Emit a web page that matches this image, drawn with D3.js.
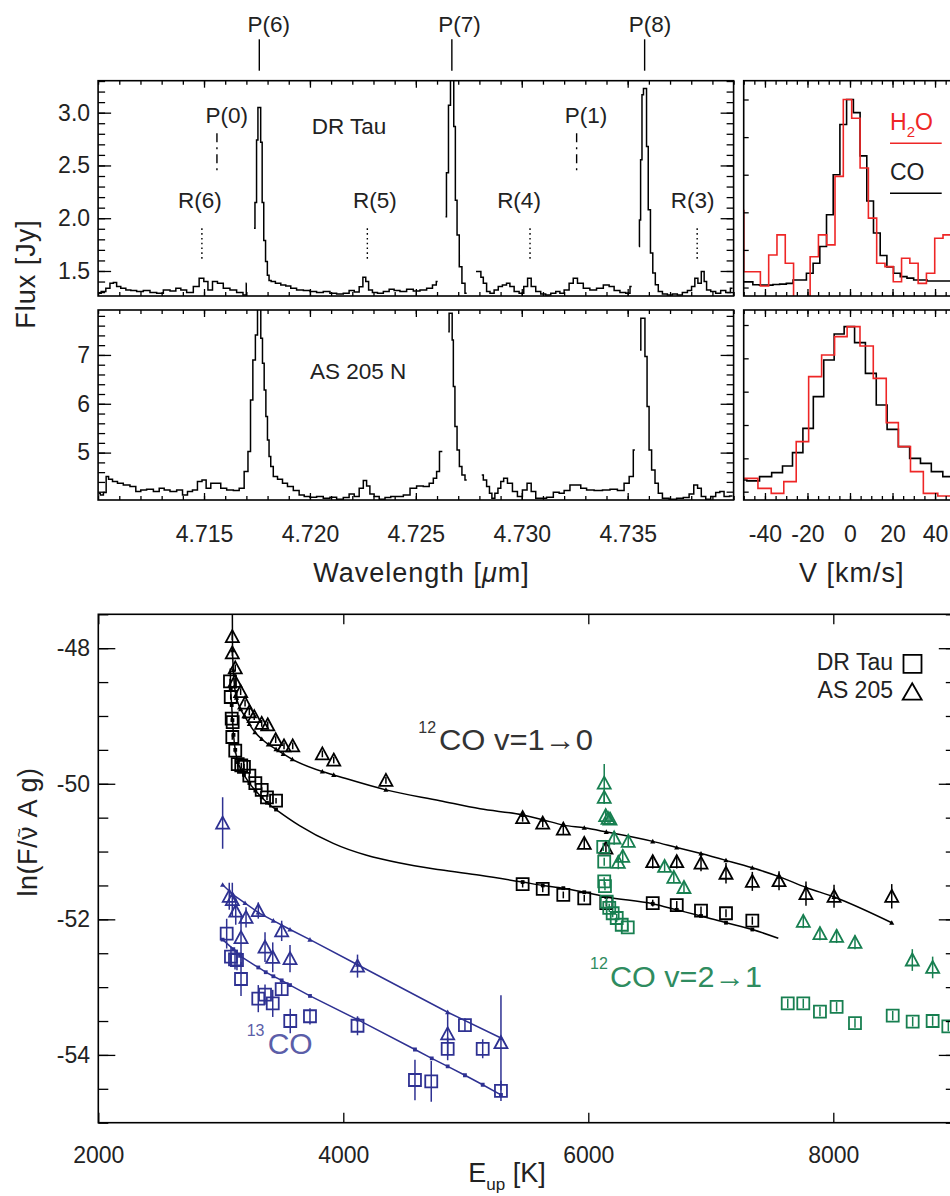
<!DOCTYPE html>
<html>
<head>
<meta charset="UTF-8">
<title>CO and H2O lines in DR Tau and AS 205 N</title>
<script src="https://d3js.org/d3.v7.min.js"></script>
<style>
  body { margin: 0; background: #fff; }
  text { font-family: "Liberation Sans", Arial, Helvetica, sans-serif; }
</style>
</head>
<body>
<svg id="chart"></svg>
<script>
// ---------- spectra: [wavelength (micron), flux (Jy)], one array per detector chunk
const drTauSegments = [
  [[4.71004,1.289],[4.71025,1.305],[4.71048,1.337],[4.71064,1.384],[4.71080,1.39],[4.71095,1.352],[4.71119,1.337],[4.71143,1.321],[4.71166,1.315],[4.71198,1.305],[4.71229,1.315],[4.71261,1.295],[4.71292,1.289],[4.71324,1.321],[4.71355,1.31],[4.71379,1.337],[4.71402,1.321],[4.71434,1.295],[4.71465,1.352],[4.71489,1.432],[4.71509,1.40],[4.71528,1.321],[4.71552,1.40],[4.71575,1.384],[4.71607,1.337],[4.71638,1.321],[4.71670,1.295],[4.71698,1.273],[4.71701,1.384]],
  [[4.71736,1.905],[4.71745,2.15],[4.71751,2.74],[4.71758,3.05],[4.71764,3.05],[4.71771,2.72],[4.71778,2.15],[4.71786,1.79],[4.71795,1.59],[4.71803,1.46],[4.71811,1.41],[4.71823,1.40],[4.71851,1.384],[4.71874,1.368],[4.71898,1.358],[4.71921,1.337],[4.71953,1.321],[4.71985,1.315],[4.72016,1.305],[4.72047,1.295],[4.72079,1.305],[4.72110,1.289],[4.72142,1.283],[4.72173,1.289],[4.72197,1.315],[4.72221,1.30],[4.72244,1.35],[4.72256,1.44],[4.72271,1.40],[4.72283,1.321],[4.72307,1.295],[4.72331,1.289],[4.72362,1.305],[4.72386,1.326],[4.72409,1.315],[4.72441,1.305],[4.72472,1.326],[4.72504,1.31],[4.72535,1.321],[4.72567,1.337],[4.72590,1.368],[4.72603,1.40]],
  [[4.72640,2.015],[4.72649,2.43],[4.72659,3.07],[4.72668,3.45],[4.72675,3.45],[4.72683,2.87],[4.72690,2.17],[4.72699,1.84],[4.72711,1.54],[4.72724,1.384],[4.72740,1.289]],
  [[4.72784,1.494],[4.72803,1.494],[4.72811,1.44],[4.72826,1.384],[4.72842,1.305],[4.72858,1.289],[4.72881,1.321],[4.72897,1.352],[4.72920,1.368],[4.72936,1.384],[4.72952,1.352],[4.72976,1.305],[4.72999,1.289],[4.73020,1.352],[4.73035,1.432],[4.73054,1.352],[4.73078,1.305],[4.73101,1.283],[4.73125,1.273],[4.73149,1.289],[4.73172,1.305],[4.73188,1.289],[4.73212,1.321],[4.73235,1.384],[4.73251,1.432],[4.73275,1.384],[4.73306,1.337],[4.73337,1.321],[4.73369,1.337],[4.73401,1.368],[4.73424,1.352],[4.73448,1.315],[4.73479,1.295],[4.73503,1.289],[4.73519,1.352]],
  [[4.73553,1.731],[4.73558,1.984],[4.73564,2.553],[4.73571,3.17],[4.73578,3.23],[4.73586,3.23],[4.73592,2.68],[4.73602,2.08],[4.73613,1.67],[4.73624,1.48],[4.73637,1.37],[4.73652,1.305],[4.73676,1.283],[4.73699,1.273],[4.73723,1.283],[4.73746,1.273],[4.73770,1.295],[4.73794,1.315],[4.73809,1.352],[4.73825,1.432],[4.73838,1.384],[4.73857,1.494],[4.73865,1.40],[4.73880,1.321],[4.73904,1.305],[4.73927,1.289],[4.73951,1.315],[4.73975,1.295],[4.73995,1.337]]
];

const as205Segments = [
  [[4.71004,4.168],[4.71017,4.134],[4.71033,4.182],[4.71043,4.509],[4.71056,4.455],[4.71080,4.407],[4.71103,4.373],[4.71135,4.339],[4.71166,4.305],[4.71190,4.202],[4.71213,4.236],[4.71245,4.25],[4.71277,4.202],[4.71300,4.271],[4.71324,4.236],[4.71355,4.202],[4.71387,4.236],[4.71410,4.134],[4.71434,4.202],[4.71457,4.236],[4.71481,4.407],[4.71500,4.441],[4.71520,4.271],[4.71544,4.373],[4.71567,4.373],[4.71591,4.271],[4.71623,4.236],[4.71654,4.223],[4.71678,4.271],[4.71701,4.612],[4.71714,5.021],[4.71725,6.079],[4.71736,6.898],[4.71749,7.409],[4.71756,7.99],[4.71764,7.99],[4.71772,7.341],[4.71780,6.829],[4.71788,6.284],[4.71796,5.738],[4.71803,5.26],[4.71811,4.919],[4.71819,4.714],[4.71835,4.509],[4.71859,4.455],[4.71882,4.373],[4.71906,4.305],[4.71937,4.223],[4.71961,4.134],[4.71985,4.10],[4.72016,4.086],[4.72047,4.10],[4.72079,4.066],[4.72110,4.086],[4.72142,4.045],[4.72173,4.079],[4.72197,4.155],[4.72221,4.10],[4.72244,4.271],[4.72260,4.428],[4.72275,4.318],[4.72291,4.155],[4.72315,4.10],[4.72339,4.045],[4.72370,4.079],[4.72393,4.10],[4.72425,4.10],[4.72457,4.134],[4.72488,4.271],[4.72519,4.318],[4.72551,4.305],[4.72575,4.373],[4.72590,4.475],[4.72606,4.612],[4.72617,5.021],[4.72625,5.021]],
  [[4.72653,7.477],[4.72661,7.853],[4.72669,7.853],[4.72674,7.307],[4.72680,6.352],[4.72689,5.533],[4.72700,5.055],[4.72711,4.714],[4.72724,4.544],[4.72740,4.441]],
  [[4.72811,4.544],[4.72826,4.441],[4.72842,4.305],[4.72853,4.168],[4.72865,4.066],[4.72881,4.168],[4.72894,4.271],[4.72908,4.407],[4.72921,4.475],[4.72944,4.373],[4.72968,4.202],[4.72991,4.10],[4.73015,4.236],[4.73035,4.373],[4.73054,4.202],[4.73078,4.066],[4.73101,4.066],[4.73133,4.086],[4.73165,4.19],[4.73188,4.168],[4.73212,4.223],[4.73243,4.339],[4.73267,4.339],[4.73290,4.271],[4.73322,4.236],[4.73361,4.223],[4.73401,4.236],[4.73432,4.25],[4.73471,4.223],[4.73495,4.373],[4.73519,4.509],[4.73534,5.055]],
  [[4.73558,7.102],[4.73566,7.751],[4.73577,7.751],[4.73586,6.966],[4.73597,5.942],[4.73605,5.055],[4.73621,4.646],[4.73637,4.373],[4.73652,4.168],[4.73676,4.066],[4.73715,4.045],[4.73747,4.066],[4.73778,4.079],[4.73802,4.155],[4.73822,4.339],[4.73838,4.271],[4.73857,4.10],[4.73880,4.045],[4.73904,4.10],[4.73927,4.182],[4.73943,4.202],[4.73967,4.10],[4.73995,4.114]]
];

// ---------- line identifications
const idNames = ["P(6)", "P(7)", "P(8)", "P(0)", "P(1)", "R(6)", "R(5)", "R(4)", "R(3)"];
const idWaves = [4.71761, 4.72670, 4.73580, 4.71561, 4.73259, 4.71490, 4.72271, 4.73039, 4.73828];
const idLabelWaves = [4.71806, 4.72706, 4.73605, 4.71607, 4.73303, 4.71481, 4.72307, 4.72987, 4.73807];
const idStyles = ["solid", "solid", "solid", "dashdot", "dashdot", "dotted", "dotted", "dotted", "dotted"];

// ---------- velocity profiles (normalised flux)
const drTauCoVel = [-50.4,-47.3,-44.1,-41.0,-37.8,-34.7,-31.5,-28.4,-25.2,-22.1,-18.9,-15.8,-12.6,-9.5,-6.3,-3.2,0,3.2,6.3,9.5,12.6,15.8,18.9,22.1,25.2,28.4,31.5,34.7,37.8,41.0,44.1,47.3,50.4];
const drTauCo = [0.03,0.03,0.015,0.013,0.013,0.016,0.018,0.022,0.04,0.04,0.076,0.129,0.218,0.387,0.60,0.867,1.0,0.93,0.70,0.46,0.29,0.17,0.11,0.076,0.058,0.05,0.04,0.04,0.035,0.035,0.035,0.035,0.035];
const drTauH2oVel = [-51.9,-48.0,-44.1,-40.2,-36.3,-32.4,-28.5,-24.6,-20.7,-16.8,-12.9,-9.0,-5.1,-1.2,2.8,6.7,10.6,14.5,18.4,22.3,26.2,30.1,34.0,37.9,41.8,45.7,49.6];
const drTauH2o = [0.41,0.084,0.084,0.008,0.173,0.28,0.129,-0.1,-0.1,0.164,0.28,0.227,0.591,1.0,0.90,0.636,0.369,0.129,0.111,0.031,0.156,0.129,0.022,0.076,0.262,0.28,0.129];
const as205CoVel = [-51.5,-45.5,-39.6,-34.1,-29.4,-24.7,-19.6,-14.9,-9.8,-5.1,-0.4,4.7,9.8,14.9,20.0,25.5,30.6,35.7,40.8,46.5,52];
const as205Co = [0.07,0.065,0.09,0.114,0.154,0.234,0.38,0.57,0.79,0.946,0.99,0.894,0.71,0.52,0.374,0.27,0.2,0.17,0.12,0.09,0.09];
const as205H2oVel = [-51,-46.6,-40.0,-34.1,-28.2,-22.4,-16.5,-10.2,-4.3,1.6,7.8,14.1,20.0,25.5,31.4,37.6,45.0,52];
const as205H2o = [0.08,0.08,0.02,-0.01,0.06,0.30,0.69,0.82,0.93,0.99,0.874,0.68,0.414,0.27,0.12,-0.01,-0.026,-0.026];

// ---------- rotation diagram: E_up (K), ln(F/nu A g), error
const co10DrTauE = [3075,3081,3089,3097,3094,3118,3138,3167,3189,3233,3282,3334,3377,3451,5464,5628,5796,5967,6147,6526,6722,6920,7124,7339];
const co10DrTauLn = [-48.49,-48.72,-49.04,-49.09,-49.31,-49.51,-49.71,-49.73,-49.75,-49.88,-49.99,-50.09,-50.20,-50.25,-51.48,-51.55,-51.64,-51.69,-51.76,-51.76,-51.79,-51.87,-51.91,-52.02];
const co10DrTauErr = [0.04,0.04,0.04,0.04,0.04,0.04,0.04,0.04,0.04,0.04,0.04,0.04,0.04,0.04,0.05,0.05,0.05,0.05,0.05,0.05,0.06,0.06,0.06,0.06];

const co10As205E = [3094,3094,3118,3116,3162,3198,3233,3273,3334,3383,3448,3516,3587,3829,3922,4348,5464,5628,5796,5967,6144,6526,6722,6920,7124,7339,7557,7777,8006,8477];
const co10As205Ln = [-47.83,-48.07,-48.29,-48.49,-48.64,-48.81,-48.94,-49.01,-49.11,-49.13,-49.35,-49.44,-49.44,-49.56,-49.65,-49.95,-50.50,-50.58,-50.67,-50.88,-50.95,-51.15,-51.15,-51.17,-51.32,-51.44,-51.43,-51.62,-51.66,-51.66];
const co10As205Err = [0.05,0.05,0.05,0.05,0.05,0.05,0.05,0.05,0.05,0.05,0.05,0.05,0.05,0.05,0.05,0.05,0.06,0.06,0.07,0.07,0.08,0.1,0.1,0.12,0.15,0.14,0.14,0.18,0.17,0.18];

const co21DrTauE = [6122,6130,6130,6136,6150,6171,6199,6232,6273,6322,7628,7755,7891,8027,8177,8485,8648,8811,8939];
const co21DrTauLn = [-50.93,-51.15,-51.44,-51.51,-51.74,-51.83,-51.91,-51.98,-52.08,-52.12,-53.24,-53.24,-53.36,-53.29,-53.53,-53.42,-53.51,-53.50,-53.58];
const co21DrTauErr = [0.06,0.06,0.06,0.06,0.06,0.06,0.06,0.06,0.06,0.06,0.07,0.07,0.07,0.07,0.07,0.07,0.07,0.07,0.07];

const co21As205E = [6130,6130,6142,6161,6177,6211,6326,6281,6245,6623,6698,6781,7755,7891,8027,8177,8645,8811];
const co21As205Ln = [-49.99,-50.20,-50.47,-50.51,-50.52,-50.80,-50.85,-51.07,-51.16,-51.22,-51.38,-51.53,-52.03,-52.21,-52.25,-52.34,-52.60,-52.71];
const co21As205Err = [0.28,0.1,0.1,0.08,0.08,0.1,0.08,0.1,0.1,0.08,0.08,0.08,0.1,0.1,0.1,0.1,0.16,0.16];

const co13DrTauE = [3048,3083,3116,3132,3165,3306,3361,3424,3497,3567,3728,4116,4585,4718,4852,4993,5138,5287];
const co13DrTauLn = [-52.21,-52.55,-52.59,-52.60,-52.88,-53.17,-53.11,-53.24,-53.03,-53.50,-53.43,-53.57,-54.37,-54.39,-53.91,-53.56,-53.91,-54.53];
const co13DrTauErr = [0.22,0.15,0.15,0.15,0.25,0.2,0.15,0.2,0.1,0.18,0.12,0.14,0.3,0.3,0.17,0.1,0.14,0.15];

const co13As205E = [3015,3069,3094,3122,3206,3306,3165,3497,3361,3424,3565,4116,4852,5287];
const co13As205Ln = [-50.58,-51.66,-51.71,-51.88,-51.97,-51.87,-52.27,-52.17,-52.41,-52.56,-52.58,-52.69,-53.69,-53.82];
const co13As205Err = [0.38,0.2,0.25,0.2,0.15,0.12,0.3,0.15,0.22,0.22,0.2,0.17,0.32,0.7];

// model curves: [E_up, ln, 1 = plotted model point]
const modelCo10As205 = [[3094,-47.3,0],[3095,-47.8,0],[3096,-48.03,1],[3102,-48.32,1],[3112,-48.56,1],[3128,-48.73,1],[3162,-48.90,1],[3198,-49.01,1],[3233,-49.12,1],[3279,-49.24,1],[3334,-49.34,1],[3388,-49.42,1],[3451,-49.49,1],[3510,-49.56,1],[3584,-49.64,1],[3829,-49.82,1],[3922,-49.87,1],[4348,-50.09,1],[4789,-50.25,0],[5116,-50.37,0],[5464,-50.46,1],[5628,-50.53,1],[5796,-50.61,1],[5967,-50.65,1],[6147,-50.71,1],[6526,-50.85,1],[6722,-50.94,1],[6920,-51.03,1],[7124,-51.13,1],[7339,-51.24,1],[7557,-51.37,1],[7777,-51.53,1],[8006,-51.67,1],[8477,-52.05,1]];
const modelCo10DrTau = [[3077,-48.3,0],[3081,-48.61,1],[3089,-48.84,1],[3095,-49.06,1],[3104,-49.28,1],[3118,-49.50,1],[3140,-49.68,1],[3167,-49.80,1],[3189,-49.87,1],[3233,-49.99,1],[3282,-50.10,1],[3334,-50.20,1],[3377,-50.28,1],[3451,-50.38,1],[3646,-50.62,0],[3918,-50.88,0],[4463,-51.17,0],[4789,-51.27,0],[5116,-51.35,0],[5464,-51.45,1],[5628,-51.50,1],[5796,-51.54,1],[5967,-51.60,1],[6147,-51.67,1],[6526,-51.77,1],[6722,-51.86,1],[6920,-51.95,1],[7124,-52.05,1],[7339,-52.15,1],[7551,-52.28,0]];
const modelCo13As205 = [[3015,-51.49,1],[3102,-51.64,1],[3198,-51.76,1],[3306,-51.90,1],[3429,-52.02,1],[3565,-52.15,1],[3728,-52.30,1],[4117,-52.67,1],[4852,-53.37,1],[5287,-53.75,1]];
const modelCo13DrTau = [[3015,-52.30,1],[3102,-52.44,1],[3157,-52.54,1],[3306,-52.71,1],[3367,-52.78,1],[3429,-52.84,1],[3497,-52.90,1],[3565,-52.97,1],[3728,-53.13,1],[4117,-53.48,1],[4585,-53.92,1],[4722,-54.05,1],[4852,-54.17,1],[4993,-54.30,1],[5138,-54.44,1],[5287,-54.59,1]];

// ---------- setup
const BLACK = "#000", RED = "#ee2626", GREEN = "#177f50", BLUE = "#2e3192";
const svg = d3.select("#chart").attr("width", 950).attr("height", 1196);

const specX = d3.scaleLinear().domain([4.710, 4.740]).range([98.1, 733.6]);
const drTauY = d3.scaleLinear().domain([1.263, 3.303]).range([296, 80.7]);
const as205Y = d3.scaleLinear().domain([4.03, 7.92]).range([500, 310]);
const velX = d3.scaleLinear().domain([-50, 50]).range([743.7, 956.3]);
const velTopY = d3.scaleLinear().domain([-0.045, 1.1]).range([296, 80.7]);
const velBotY = d3.scaleLinear().domain([-0.05, 1.09]).range([500, 310]);
const eX = d3.scaleLinear().domain([2000, 9000]).range([98.3, 955.8]);
const lnY = d3.scaleLinear().domain([-55, -47.5]).range([1122.7, 614.3]);

const defs = svg.append("defs");
function clipFor(id, x, y) {
  const [x0, x1] = x.range(), [y0, y1] = y.range();
  defs.append("clipPath").attr("id", id).append("rect")
    .attr("x", x0).attr("y", y1).attr("width", x1 - x0).attr("height", y0 - y1);
  return `url(#${id})`;
}
function frame(x, y) {
  const [x0, x1] = x.range(), [y0, y1] = y.range();
  svg.append("rect").attr("x", x0).attr("y", y1).attr("width", x1 - x0).attr("height", y0 - y1)
    .attr("fill", "none").attr("stroke", BLACK).attr("stroke-width", 1.6);
}
function axis(side, scale, pos, values, size, fmt, pad) {
  const gen = {bottom: d3.axisBottom, top: d3.axisTop, left: d3.axisLeft, right: d3.axisRight}[side](scale)
    .tickValues(values).tickSize(-size).tickPadding(pad || 0)
    .tickFormat(fmt || (() => ""));
  const horiz = side === "bottom" || side === "top";
  const g = svg.append("g").attr("transform", horiz ? `translate(0,${pos})` : `translate(${pos},0)`).call(gen);
  g.select(".domain").remove();
  g.selectAll(".tick line").attr("stroke", BLACK).attr("stroke-width", 1.3);
  g.selectAll(".tick text").attr("font-size", 23).attr("fill", "#222")
    .attr("font-family", '"Liberation Sans", Arial, sans-serif');
  return g;
}
function label(x, y, str, size, fill, anchor) {
  return svg.append("text").attr("x", x).attr("y", y).attr("font-size", size)
    .attr("fill", fill || "#222").attr("text-anchor", anchor || "start").text(str);
}

// ---------- spectra panels
const stepLine = (x, y) => d3.line().x(d => x(d[0])).y(d => y(d[1])).curve(d3.curveStep);

[[drTauSegments, drTauY, "clipDr"], [as205Segments, as205Y, "clipAs"]].forEach(([segs, y, id]) => {
  const clip = clipFor(id, specX, y);
  const line = stepLine(specX, y);
  svg.append("g").attr("clip-path", clip).selectAll("path").data(segs).enter().append("path")
    .attr("d", line).attr("fill", "none").attr("stroke", BLACK).attr("stroke-width", 1.5);
});

const waveMinor = d3.range(0, 31).map(i => +(4.710 + i * 0.001).toFixed(3));
const waveMajor = [4.715, 4.720, 4.725, 4.730, 4.735];
[[drTauY, false], [as205Y, true]].forEach(([y, labelled]) => {
  const [yb, yt] = y.range();
  axis("top", specX, yt, waveMinor, 4);
  axis("top", specX, yt, waveMajor, 7);
  axis("bottom", specX, yb, waveMinor, 4);
  axis("bottom", specX, yb, waveMajor, 7, labelled ? d3.format(".3f") : null, 25.4);
});
axis("left", drTauY, 98.1, d3.range(13, 34).map(i => i / 10), 7);
axis("left", drTauY, 98.1, [1.5, 2.0, 2.5, 3.0], 13, d3.format(".1f"), 8);
axis("right", drTauY, 733.6, d3.range(13, 34).map(i => i / 10), 7);
axis("right", drTauY, 733.6, [1.5, 2.0, 2.5, 3.0], 13);
axis("left", as205Y, 98.1, d3.range(21, 40).map(i => i / 5), 7);
axis("left", as205Y, 98.1, [5, 6, 7], 13, d => String(d), 8);
axis("right", as205Y, 733.6, d3.range(21, 40).map(i => i / 5), 7);
axis("right", as205Y, 733.6, [5, 6, 7], 13);
frame(specX, drTauY);
frame(specX, as205Y);

// line identifications
const idLayout = {
  solid: {label: 31.7, y1: 39.3, y2: 70.7, dash: null},
  dashdot: {label: 123.3, y1: 133.3, y2: 175, dash: "9,5,2,5"},
  dotted: {label: 208.3, y1: 228.3, y2: 260, dash: "1.6,3.2"}
};
idNames.forEach((name, i) => {
  const lay = idLayout[idStyles[i]];
  svg.append("line").attr("x1", specX(idWaves[i])).attr("x2", specX(idWaves[i]))
    .attr("y1", lay.y1).attr("y2", lay.y2).attr("stroke", BLACK).attr("stroke-width", 1.4)
    .attr("stroke-dasharray", lay.dash);
  label(specX(idLabelWaves[i]), lay.label, name, 22.5, "#222", "middle");
});
label(311.7, 134, "DR Tau", 22.5);
label(310, 379, "AS 205 N", 22.5);

// ---------- velocity panels
const velPanels = [
  {y: velTopY, id: "clipVt", co: [drTauCoVel, drTauCo], h2o: [drTauH2oVel, drTauH2o], labelled: false},
  {y: velBotY, id: "clipVb", co: [as205CoVel, as205Co], h2o: [as205H2oVel, as205H2o], labelled: true}
];
velPanels.forEach(p => {
  const clip = clipFor(p.id, velX, p.y);
  const line = d3.line().x(d => velX(d[0])).y(d => p.y(d[1])).curve(d3.curveStep);
  const g = svg.append("g").attr("clip-path", clip);
  g.append("path").attr("d", line(p.co[0].map((v, i) => [v, p.co[1][i]])))
    .attr("fill", "none").attr("stroke", BLACK).attr("stroke-width", 1.6);
  g.append("path").attr("d", line(p.h2o[0].map((v, i) => [v, p.h2o[1][i]])))
    .attr("fill", "none").attr("stroke", RED).attr("stroke-width", 1.6);
  const [yb, yt] = p.y.range();
  axis("top", velX, yt, d3.range(-50, 51, 5), 4);
  axis("top", velX, yt, [-40, -20, 0, 20, 40], 7);
  axis("bottom", velX, yb, d3.range(-50, 51, 5), 4);
  axis("bottom", velX, yb, [-40, -20, 0, 20, 40], 7, p.labelled ? (d => String(d)) : null, 25.4);
  axis("left", p.y, 743.7, [0, 0.2, 0.4, 0.6, 0.8, 1.0], 5);
  axis("right", p.y, 956.3, [0, 0.2, 0.4, 0.6, 0.8, 1.0], 5);
  frame(velX, p.y);
});
// H2O / CO legend
const h2oLab = label(890, 130, "H", 23, RED);
h2oLab.append("tspan").attr("font-size", 15).attr("dy", 7).text("2");
h2oLab.append("tspan").attr("dy", -7).text("O");
svg.append("line").attr("x1", 890).attr("x2", 941.7).attr("y1", 143.3).attr("y2", 143.3)
  .attr("stroke", RED).attr("stroke-width", 1.5);
label(890, 180, "CO", 23, "#222");
svg.append("line").attr("x1", 890).attr("x2", 941.7).attr("y1", 193.3).attr("y2", 193.3)
  .attr("stroke", BLACK).attr("stroke-width", 1.5);

// axis titles, top
label(0, 0, "Flux [Jy]", 27, "#222", "middle").attr("letter-spacing", 1)
  .attr("transform", "translate(35,274) rotate(-90)");
const wl = label(421.5, 581.7, "Wavelength [", 27, "#222", "middle").attr("letter-spacing", 1);
wl.append("tspan").attr("font-style", "italic").text("\u03bc");
wl.append("tspan").text("m]");
label(851.7, 581.7, "V [km/s]", 27, "#222", "middle").attr("letter-spacing", 1);

// ---------- rotation diagram
const clipRot = clipFor("clipRot", eX, lnY);
const rot = svg.append("g").attr("clip-path", clipRot);
const SQ = "M-6,-6H6V6H-6Z", TRI = "M0,-6.5L6.5,5.5H-6.5Z";
const SQ_S = "M-1.9,-1.9H1.9V1.9H-1.9Z", TRI_S = "M0,-2.6L2.6,2H-2.6Z";

function model(data, color, smallShape, curve) {
  const line = d3.line().x(d => eX(d[0])).y(d => lnY(d[1])).curve(curve);
  rot.append("path").attr("d", line(data)).attr("fill", "none")
    .attr("stroke", color).attr("stroke-width", 1.5);
  rot.selectAll(null).data(data.filter(d => d[2] === 1)).enter().append("path")
    .attr("d", smallShape).attr("fill", color)
    .attr("transform", d => `translate(${eX(d[0])},${lnY(d[1])})`);
}
function series(E, L, Err, shape, color) {
  const pts = E.map((e, i) => ({e, l: L[i], s: Err[i]}));
  rot.selectAll(null).data(pts).enter().append("line")
    .attr("x1", d => eX(d.e)).attr("x2", d => eX(d.e))
    .attr("y1", d => lnY(d.l - d.s)).attr("y2", d => lnY(d.l + d.s))
    .attr("stroke", color).attr("stroke-width", 1.5);
  rot.selectAll(null).data(pts).enter().append("path")
    .attr("d", shape).attr("fill", "none").attr("stroke", color).attr("stroke-width", 1.8)
    .attr("transform", d => `translate(${eX(d.e)},${lnY(d.l)})`);
}

model(modelCo10As205, BLACK, TRI_S, d3.curveMonotoneX);
model(modelCo10DrTau, BLACK, SQ_S, d3.curveMonotoneX);
model(modelCo13As205, BLUE, TRI_S, d3.curveLinear);
model(modelCo13DrTau, BLUE, SQ_S, d3.curveLinear);

series(co10DrTauE, co10DrTauLn, co10DrTauErr, SQ, BLACK);
series(co10As205E, co10As205Ln, co10As205Err, TRI, BLACK);
series(co21DrTauE, co21DrTauLn, co21DrTauErr, SQ, GREEN);
series(co21As205E, co21As205Ln, co21As205Err, TRI, GREEN);
series(co13DrTauE, co13DrTauLn, co13DrTauErr, SQ, BLUE);
series(co13As205E, co13As205Ln, co13As205Err, TRI, BLUE);

const lnMinor = d3.range(0, 16).map(i => -55 + i * 0.5);
const lnMajor = [-54, -52, -50, -48];
const eMajor = [2000, 4000, 6000, 8000];
axis("top", eX, 614.3, eMajor, 10);
axis("bottom", eX, 1122.7, eMajor, 10, d => String(d), 24.3);
axis("left", lnY, 98.3, lnMinor, 10);
axis("left", lnY, 98.3, lnMajor, 17, d => String(d), 8.3);
axis("right", lnY, 955.8, lnMinor, 10);
axis("right", lnY, 955.8, lnMajor, 17);
frame(eX, lnY);

// legend
label(893, 670, "DR Tau", 23, "#222", "end");
svg.append("path").attr("d", "M-9,-9H9V9H-9Z").attr("transform", "translate(912.5,663.8)")
  .attr("fill", "none").attr("stroke", BLACK).attr("stroke-width", 1.8);
label(893, 698, "AS 205", 23, "#222", "end");
svg.append("path").attr("d", "M0,-8.5L9.5,8H-9.5Z").attr("transform", "translate(912.2,691.7)")
  .attr("fill", "none").attr("stroke", BLACK).attr("stroke-width", 1.8);

// species labels
label(418.3, 732.5, "12", 16, "#333");
label(439, 750, "CO v=1\u21920", 30, "#333")
  .attr("textLength", 154).attr("lengthAdjust", "spacingAndGlyphs");
label(590, 969.3, "12", 16, "#2f8c60");
label(610, 986.7, "CO v=2\u21921", 30, "#2f8c60")
  .attr("textLength", 152).attr("lengthAdjust", "spacingAndGlyphs");
label(246.7, 1035.7, "13", 16, "#5b5ea8");
label(267.7, 1054, "CO", 30, "#5b5ea8");

// axis titles, bottom
const yTitle = label(0, 0, "ln(F/\u03bd", 27, "#222", "middle").attr("letter-spacing", 0.5)
  .attr("transform", "translate(37,832) rotate(-90)");
yTitle.append("tspan").attr("font-size", 16).attr("dx", -11.4).attr("dy", -12).text("~");
yTitle.append("tspan").attr("dx", 2.1).attr("dy", 12).text(" A g)");
const eup = label(468.3, 1181.7, "E", 27, "#222");
eup.append("tspan").attr("font-size", 17).attr("dy", 8).text("up");
eup.append("tspan").attr("dy", -8).text(" [K]");
</script>
</body>
</html>
